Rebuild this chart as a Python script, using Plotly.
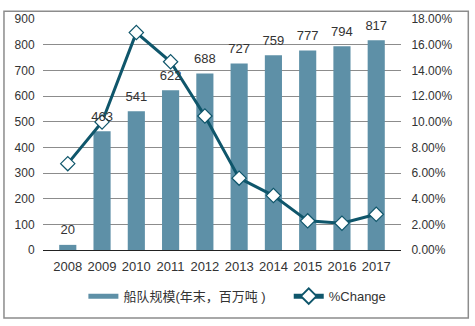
import plotly.graph_objects as go

years = ["2008", "2009", "2010", "2011", "2012", "2013", "2014", "2015", "2016", "2017"]
fleet = [20, 463, 541, 622, 688, 727, 759, 777, 794, 817]
pct_change = [0.0673, 0.0998, 0.1694, 0.1467, 0.1044, 0.056, 0.0424, 0.0227, 0.0209, 0.0278]

font_family = "Liberation Sans, Arial, Noto Sans CJK SC, sans-serif"
txt = "#333333"
bar_color = "#5E90A7"
line_color = "#0F566B"
bar_name = "船队规模(年末，百万吨 )"

fig = go.Figure()
fig.add_trace(go.Bar(
    x=years, y=fleet, name=bar_name, showlegend=False,
    marker=dict(color=bar_color, line=dict(width=0)),
    width=0.5,
))
# legend entry for the bars (wide swatch)
fig.add_trace(go.Scatter(
    x=[None], y=[None], mode="lines", name=bar_name + "&nbsp;" * 5,
    line=dict(color=bar_color, width=9),
))
fig.add_trace(go.Scatter(
    x=years, y=pct_change, name="%Change", yaxis="y2",
    mode="lines+markers",
    line=dict(color=line_color, width=3),
    marker=dict(symbol="diamond", size=11, color="white",
                line=dict(color=line_color, width=1.2)),
    cliponaxis=False,
))
# bar value labels drawn on top of the line (own overlay layer, same scale as y)
fig.add_trace(go.Scatter(
    x=years, y=fleet, mode="markers+text", text=[str(v) for v in fleet],
    textposition="top center", showlegend=False, hoverinfo="skip", yaxis="y3",
    marker=dict(size=10, opacity=0),
    textfont=dict(size=13, color=txt, family=font_family),
    cliponaxis=False,
))

fig.update_layout(
    width=475, height=326,
    margin=dict(l=43, r=74, t=12, b=76),
    paper_bgcolor="white", plot_bgcolor="white",
    font=dict(family=font_family, size=12, color=txt),
    showlegend=True,
    legend=dict(orientation="h", x=0.543, xanchor="center", y=-0.2, yanchor="middle",
                font=dict(size=13, color=txt), itemwidth=30, itemsizing="constant"),
    xaxis=dict(type="category", showgrid=False, showline=True, linecolor="#222222",
               linewidth=1, ticks="outside", ticklen=4, tickcolor="rgba(0,0,0,0)",
               tickfont=dict(size=13, color=txt)),
    yaxis=dict(range=[0, 900], dtick=100, showgrid=True, gridcolor="#8c8c8c",
               gridwidth=1, zeroline=False, ticks="outside", ticklen=5,
               tickcolor="rgba(0,0,0,0)", showline=False,
               tickfont=dict(size=12, color=txt)),
    yaxis2=dict(range=[0, 0.18], dtick=0.02, tickformat=".2%", overlaying="y",
                side="right", showgrid=False, zeroline=False, showline=False,
                ticks="outside", ticklen=7, tickcolor="rgba(0,0,0,0)",
                tickfont=dict(size=12, color=txt)),
    yaxis3=dict(range=[0, 900], overlaying="y", visible=False, showgrid=False,
                zeroline=False),
    shapes=[dict(type="rect", xref="paper", yref="paper",
                 x0=-0.109, x1=1.188, y0=-0.294, y1=1.0336,
                 line=dict(color="#8c8c8c", width=1.5), fillcolor="rgba(0,0,0,0)",
                 layer="below")],
)

fig.write_html("out.html")
